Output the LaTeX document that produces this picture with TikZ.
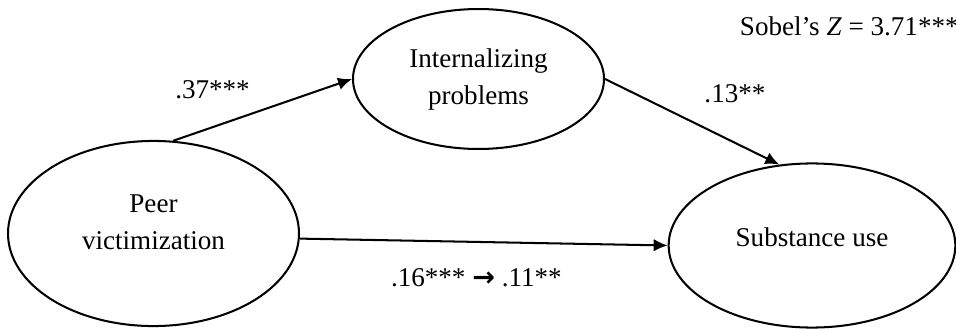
\documentclass[tikz,border=0pt]{standalone}
\usepackage{fontspec}
\setmainfont{Liberation Serif}
\newfontfamily\simbolos{DejaVu Sans}
\usetikzlibrary{arrows.meta, shapes.geometric}
\tikzset{
  constructo/.style={
    ellipse, draw=black, line width=0.9pt, inner sep=0pt,
    align=center, font=\fontsize{12}{16.4}\selectfont
  },
  flecha/.style={-{Latex[length=6.2pt, width=5.6pt]}, line width=0.9pt},
  coef/.style={font=\fontsize{12}{14}\selectfont, inner sep=2pt},
}
\begin{document}
\begin{tikzpicture}[x=0.443pt, y=-0.443pt]
  \useasboundingbox (0,0) rectangle (956,329);
  \node[constructo, minimum width=128.9pt, minimum height=82pt, text depth=9.8pt]
    (peer) at (153.5,233.5) {Peer\\victimization};
  \node[constructo, minimum width=111.2pt, minimum height=62pt]
    (intern) at (478.5,79) {Internalizing\\problems};
  \node[constructo, minimum width=127pt, minimum height=72.7pt, text depth=7.5pt]
    (subst) at (812,245.5) {Substance use};
  \draw[flecha] (peer.78) -- (intern.west)
    node[coef, pos=0.22, above=10pt] (a) {.37***};
  \draw[flecha] (intern.east) -- (subst.112)
    node[coef, pos=0.5, anchor=south west, xshift=3pt, yshift=6pt] (b) {.13**};
  \draw[flecha] (peer.-2) -- (subst.west)
    node[coef, pos=0.48, below=9.5pt] (c) {.16*** {\simbolos\bfseries →} .11**};
  \node[coef, anchor=base west] (sobel) at (735,35) {Sobel’s \textit{Z} = 3.71***};
\end{tikzpicture}
\end{document}
